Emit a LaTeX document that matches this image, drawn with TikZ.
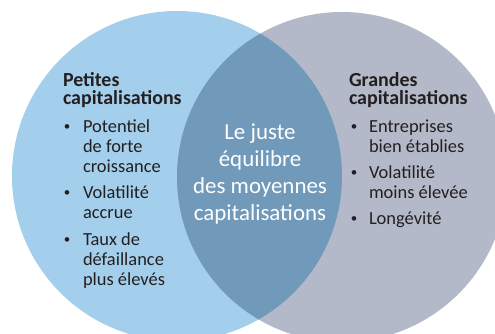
\documentclass[tikz,border=0pt]{standalone}
\usepackage{fontspec}
\setmainfont{Carlito}
\definecolor{leftc}{RGB}{163,207,236}
\definecolor{rightc}{RGB}{179,185,200}
\definecolor{midc}{RGB}{112,153,186}
\definecolor{txt}{RGB}{35,31,32}
\begin{document}
\begin{tikzpicture}[x=1bp,y=-1bp,
  every node/.style={inner sep=0pt, outer sep=0pt},
  head/.style={anchor=base west, font=\bfseries\fontsize{20}{20}\selectfont, text=txt},
  line/.style={anchor=base west, font=\fontsize{18.5}{20}\selectfont, text=txt},
  bul/.style={anchor=base, font=\fontsize{13}{20}\selectfont, text=txt},
  mid/.style={anchor=base, font=\fontsize{23}{27}\selectfont, text=white}]
\clip (0,0) rectangle (495,333);
\fill[white] (0,0) rectangle (495,333);
\fill[leftc] (177,176) circle (165);
\fill[rightc] (342,177) circle (165);
\begin{scope}
  \clip (177,176) circle (165);
  \fill[midc] (342,177) circle (165);
\end{scope}
% left
\node[head] (lh1) at (63,86) {Petites};
\node[head] (lh2) at (63,104) {capitalisations};
\node[bul] (lb1) at (67,130) {•};
\node[line] (l1a) at (83,132) {Potentiel};
\node[line] (l1b) at (83,152) {de forte};
\node[line] (l1c) at (83,172) {croissance};
\node[bul] (lb2) at (67,196) {•};
\node[line] (l2a) at (83,198) {Volatilité};
\node[line] (l2b) at (83,218) {accrue};
\node[bul] (lb3) at (67,243) {•};
\node[line] (l3a) at (83,245) {Taux de};
\node[line] (l3b) at (83,265) {défaillance};
\node[line] (l3c) at (83,285) {plus élevés};
% right
\node[head] (rh1) at (349,86) {Grandes};
\node[head] (rh2) at (349,104) {capitalisations};
\node[bul] (rb1) at (354,130) {•};
\node[line] (r1a) at (369,132) {Entreprises};
\node[line] (r1b) at (369,152) {bien établies};
\node[bul] (rb2) at (354,176) {•};
\node[line] (r2a) at (369,178) {Volatilité};
\node[line] (r2b) at (369,198) {moins élevée};
\node[bul] (rb3) at (354,222) {•};
\node[line] (r3a) at (369,224) {Longévité};
% middle
\node[mid] (m1) at (260,139) {Le juste};
\node[mid] (m2) at (260,166) {équilibre};
\node[mid] (m3) at (260,193) {des moyennes};
\node[mid] (m4) at (260,220) {capitalisations};
\end{tikzpicture}
\end{document}
